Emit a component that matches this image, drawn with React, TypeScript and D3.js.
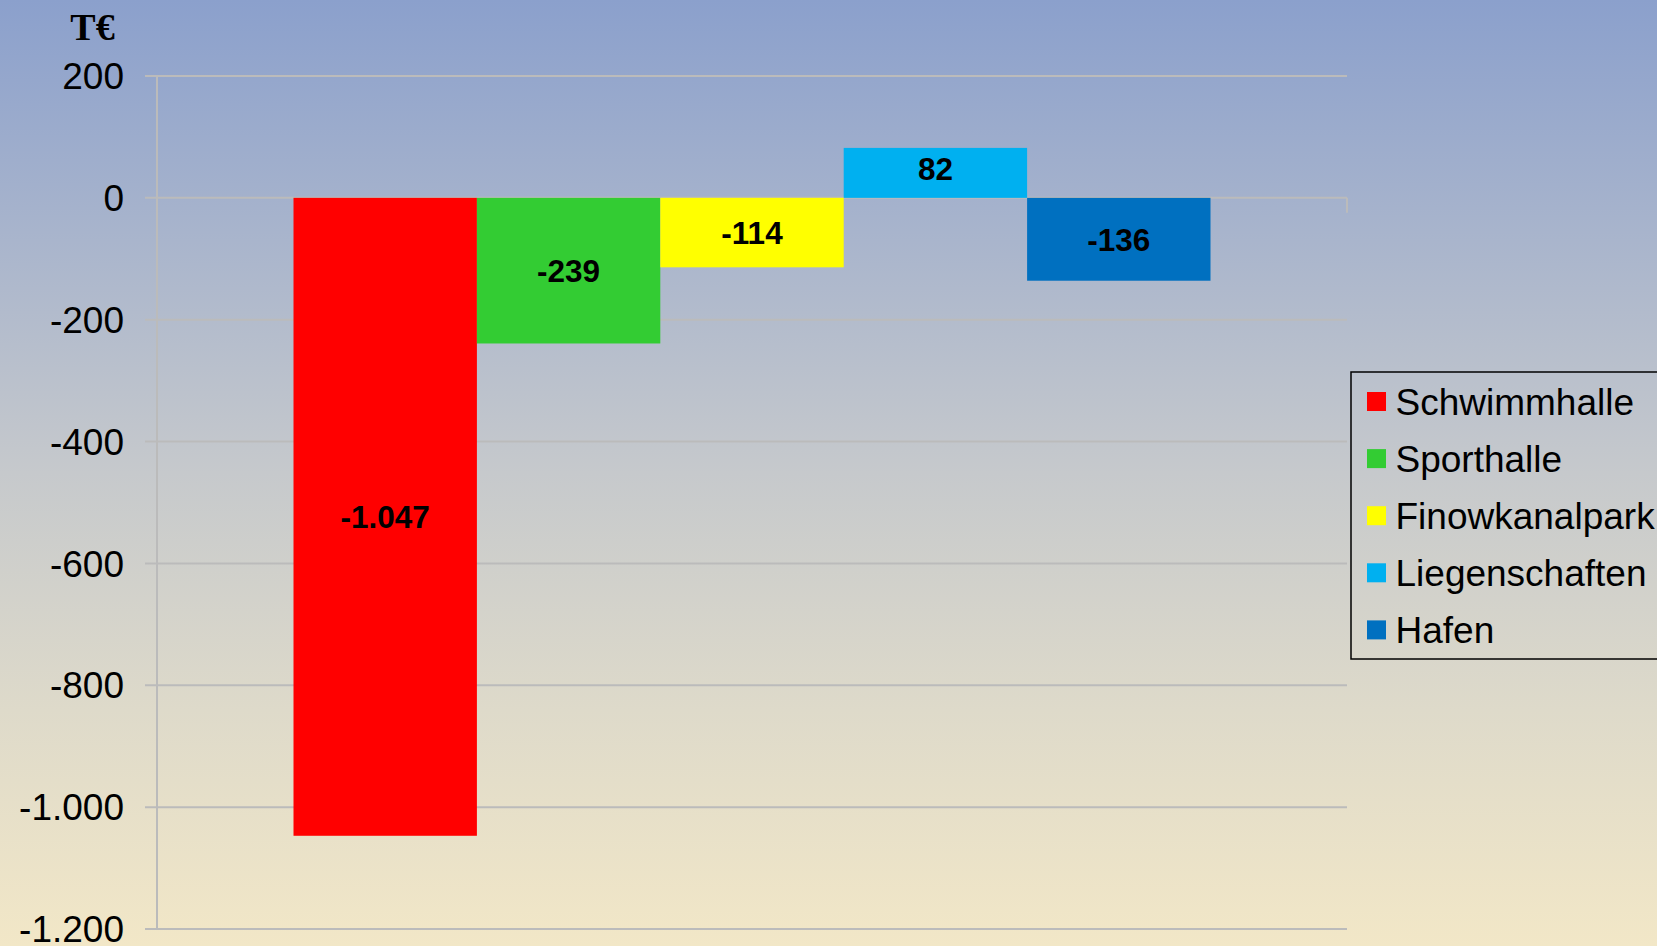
import React from "react";
import * as d3 from "d3";

const seriesNames = ["Schwimmhalle", "Sporthalle", "Finowkanalpark", "Liegenschaften", "Hafen"];
const seriesValues = [-1047, -239, -114, 82, -136];
const seriesColors = ["#FF0000", "#33CC33", "#FFFF00", "#00B0F0", "#0070C0"];
const tickValues = [200, 0, -200, -400, -600, -800, -1000, -1200];
const unitLabel = "T€";

const W = 1657;
const H = 946;

const fmt = (v: number) => {
  const s = Math.abs(v).toString().replace(/\B(?=(\d{3})+(?!\d))/g, ".");
  return (v < 0 ? "-" : "") + s;
};

export default function App() {
  const y = d3.scaleLinear().domain([-1200, 200]).range([929, 76]);
  const plotLeft = 157;
  const plotRight = 1347;
  const x = d3.scaleBand<string>().domain(seriesNames).range([293.5, 1210.5]).padding(0);
  const y0 = y(0);
  const gridColor = "#BBBBBB";
  const legendTop = 372;
  const legendRow = 57.1;

  return (
    <svg
      width={W}
      height={H}
      style={{ position: "absolute", left: 0, top: 0, display: "block" }}
      fontFamily="'Liberation Sans', Arial, sans-serif"
    >
      <defs>
        <linearGradient id="bg" x1="0" y1="0" x2="0" y2="1">
          <stop offset="0" stopColor="#8BA0CC" />
          <stop offset="0.5" stopColor="#C6C9CC" />
          <stop offset="0.75" stopColor="#DEDACA" />
          <stop offset="1" stopColor="#F2E7C7" />
        </linearGradient>
      </defs>
      <rect x={0} y={0} width={W} height={H} fill="url(#bg)" />

      {/* gridlines + ticks */}
      {tickValues.map((t) => (
        <g key={t}>
          <line x1={145} x2={plotRight} y1={y(t)} y2={y(t)} stroke={gridColor} strokeWidth={2} />
          <text
            x={124}
            y={y(t) + 13.2}
            textAnchor="end"
            fontSize={37}
            fill="#000"
          >
            {fmt(t)}
          </text>
        </g>
      ))}
      <line x1={plotLeft} x2={plotLeft} y1={y(200)} y2={y(-1200)} stroke={gridColor} strokeWidth={2} />
      <line x1={plotRight} x2={plotRight} y1={y0} y2={y0 + 15} stroke={gridColor} strokeWidth={2} />

      {/* bars */}
      {seriesNames.map((n, i) => {
        const v = seriesValues[i];
        const top = Math.min(y(v), y0);
        const h = Math.abs(y(v) - y0);
        const cx = (x(n) as number) + x.bandwidth() / 2;
        const shift = v > 0 ? -4 : 0;
        return (
          <g key={n}>
            <rect x={x(n)} y={top} width={x.bandwidth()} height={h} fill={seriesColors[i]} />
            <text
              x={cx}
              y={top + h / 2 + 11.3 + shift}
              textAnchor="middle"
              fontSize={31.5}
              fontWeight="bold"
              fill="#000"
            >
              {fmt(v)}
            </text>
          </g>
        );
      })}

      {/* unit label */}
      <text
        x={92.5}
        y={39.5}
        textAnchor="middle"
        fontFamily="'Liberation Serif', 'Times New Roman', serif"
        fontWeight="bold"
        fontSize={38}
        fill="#000"
      >
        {unitLabel}
      </text>

      {/* legend */}
      <rect x={1351} y={legendTop} width={330} height={287} fill="none" stroke="#000" strokeWidth={1.5} />
      {seriesNames.map((n, i) => {
        const cy = 401.5 + i * legendRow;
        return (
          <g key={n}>
            <rect x={1367} y={cy - 9.5} width={19} height={19} fill={seriesColors[i]} />
            <text x={1395.5} y={cy + 13.2} fontSize={37} fill="#000">
              {n}
            </text>
          </g>
        );
      })}
    </svg>
  );
}
